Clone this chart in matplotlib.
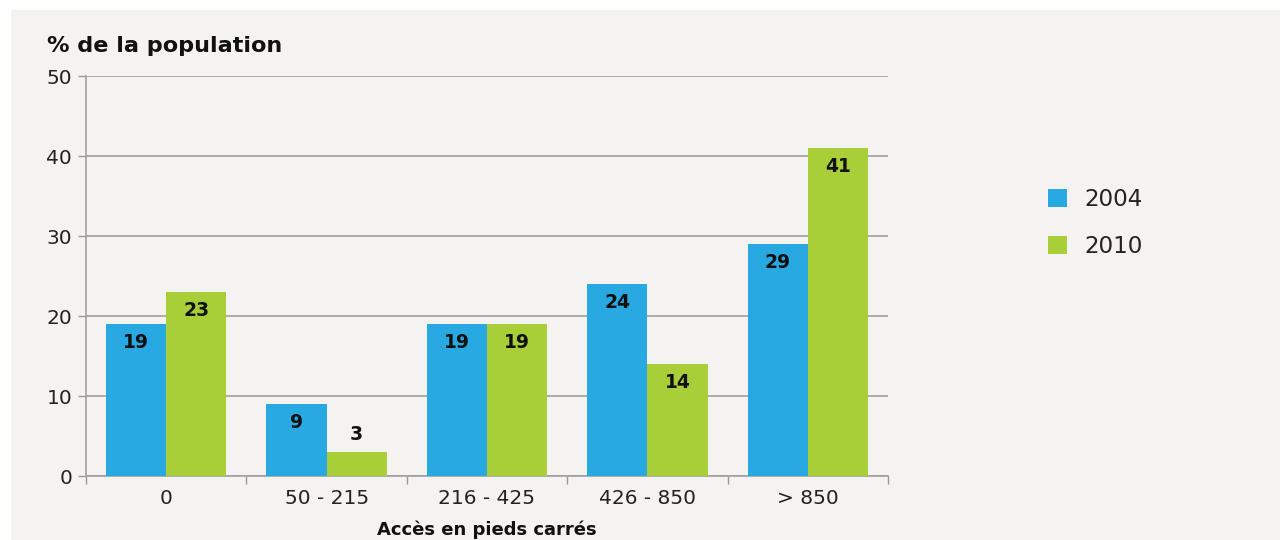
import matplotlib
matplotlib.use("Agg")
import matplotlib.pyplot as plt
import numpy as np
from matplotlib.patches import Rectangle, Patch

categories = ["0", "50 - 215", "216 - 425", "426 - 850", "> 850"]
series_names = ["2004", "2010"]
values_2004 = [19, 9, 19, 24, 29]
values_2010 = [23, 3, 19, 14, 41]
colors = ["#29a9e1", "#a8cf38"]
yticks = [0, 10, 20, 30, 40, 50]

W, H = 1280, 540
fig = plt.figure(figsize=(W / 100, H / 100), dpi=100)
fig.patch.set_facecolor("white")
fig.add_artist(Rectangle((11 / W, 0), 1, 1 - 10 / H, transform=fig.transFigure,
                         facecolor="#f4f3f1", edgecolor="none", zorder=-10))

ax = fig.add_axes([86 / W, 64 / H, 802 / W, 400 / H])
ax.set_facecolor("none")
x = np.arange(len(categories))
bw = 0.375
font = "DejaVu Sans"
for i, (vals, c) in enumerate(zip([values_2004, values_2010], colors)):
    pos = x + (i - 0.5) * bw
    ax.bar(pos, vals, width=bw, color=c, zorder=3, label=series_names[i])
    for px, v in zip(pos, vals):
        ly = v - 2.3 if v >= 5 else v + 2.2
        ax.text(px, ly, str(v), ha="center", va="center", fontsize=13.5,
                fontweight="bold", family=font, color="#111111", zorder=4)

ax.set_xlim(-0.5, len(categories) - 0.5)
ax.set_ylim(0, 50)
ax.set_yticks(yticks)
ax.set_yticklabels([str(t) for t in yticks], family=font, fontsize=14.5, color="#222222")
ax.set_xticks(x)
ax.set_xticklabels(categories, family=font, fontsize=14.5, color="#222222")
ax.set_xticks(np.arange(len(categories) + 1) - 0.5, minor=True)
ax.tick_params(axis="x", which="major", length=0, pad=9)
ax.tick_params(axis="x", which="minor", length=6, color="#999999", width=1)
ax.tick_params(axis="y", length=6, color="#999999", width=1, pad=4)
ax.grid(axis="y", color="#a0a0a0", linewidth=1.2, zorder=0)
for s in ["top", "right"]:
    ax.spines[s].set_visible(False)
for s in ["left", "bottom"]:
    ax.spines[s].set_color("#a0a0a0")
    ax.spines[s].set_linewidth(1.2)

fig.text(47 / W, 1 - 46 / H, "% de la population", ha="left", va="center",
         fontsize=16.1, fontweight="bold", family=font, color="#111111")
fig.text(487 / W, 1 - 530 / H, "Accès en pieds carrés", ha="center", va="center",
         fontsize=13, fontweight="bold", family=font, color="#111111")

handles = [Patch(facecolor=c, edgecolor="none") for c in colors]
fig.legend(handles, series_names, loc="upper left", bbox_to_anchor=(1027 / W, 1 - 167 / H),
           frameon=False, prop={"family": font, "size": 16.6}, handlelength=0.85,
           handleheight=0.85, handletextpad=0.75, labelspacing=1.05, labelcolor="#222222")

fig.savefig("out.png", dpi=100, facecolor=fig.get_facecolor())
